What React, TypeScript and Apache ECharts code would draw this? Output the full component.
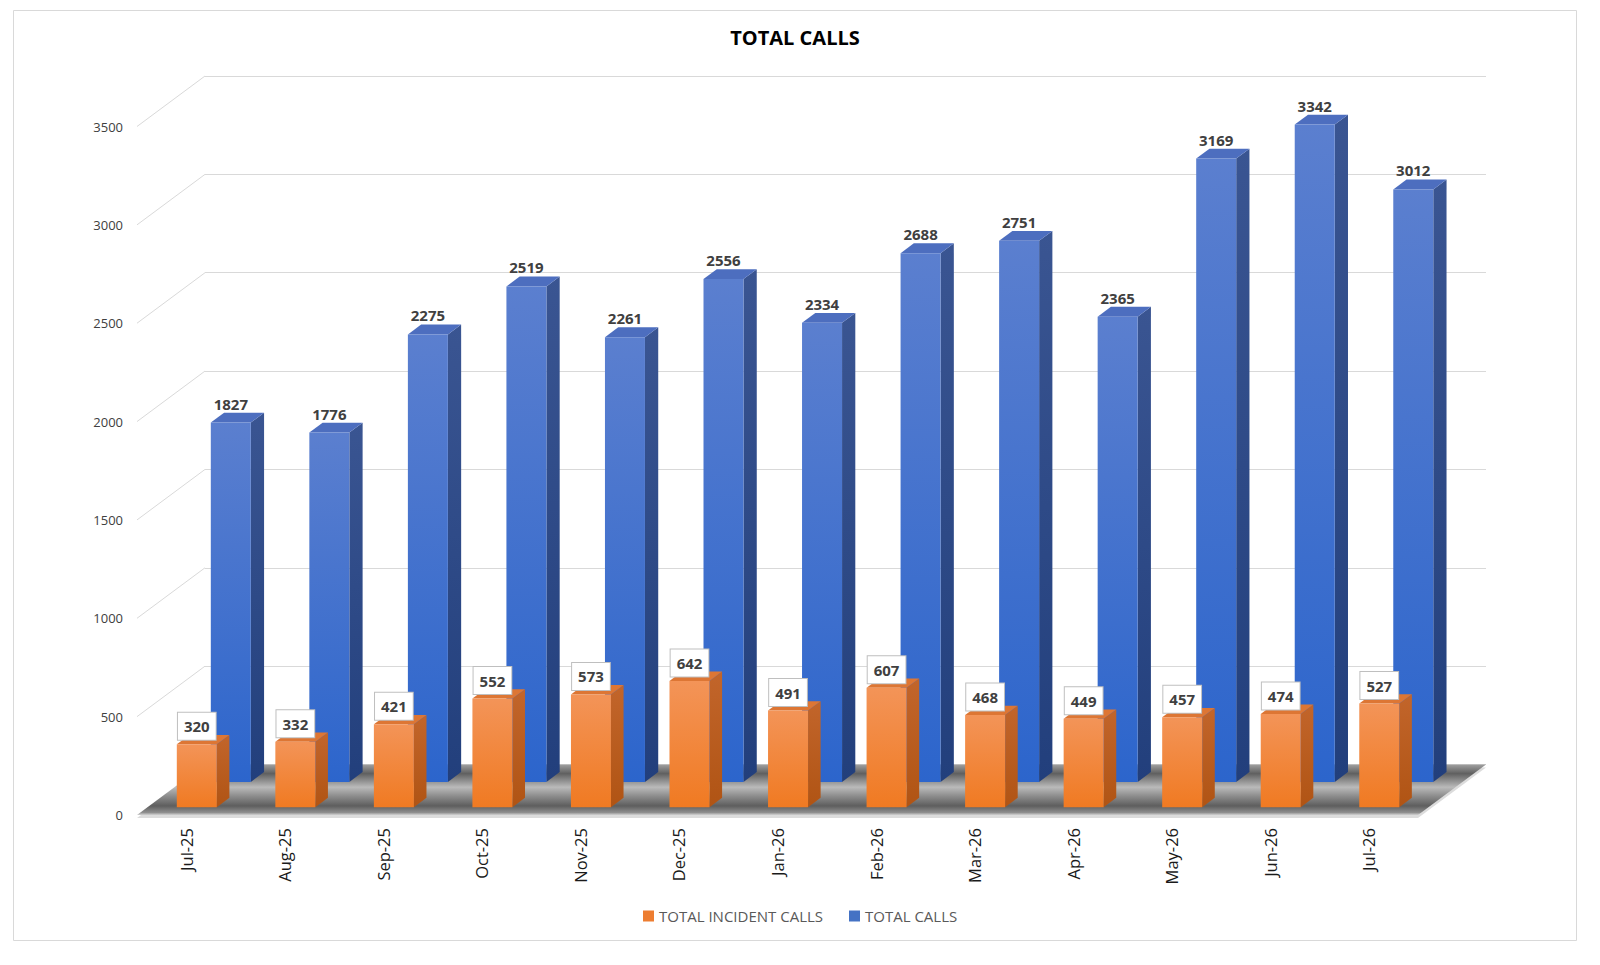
import React, { useEffect, useRef } from "react";
import * as echarts from "echarts";

const categories = ["Jul-25", "Aug-25", "Sep-25", "Oct-25", "Nov-25", "Dec-25", "Jan-26", "Feb-26", "Mar-26", "Apr-26", "May-26", "Jun-26", "Jul-26"];
const incidentCalls = [320, 332, 421, 552, 573, 642, 491, 607, 468, 449, 457, 474, 527];
const totalCalls = [1827, 1776, 2275, 2519, 2261, 2556, 2334, 2688, 2751, 2365, 3169, 3342, 3012];
const yTicks = [500, 1000, 1500, 2000, 2500, 3000, 3500];

const FONT = "'Open Sans', 'Noto Sans', sans-serif";
const DX = 68;
const DY = -50.5;
const BAR_FRAC = 0.406;

function barRenderer(dFront: number, dBack: number, c: any, boxed: boolean) {
  return (params: any, api: any) => {
    const idx = api.value(0);
    const val = api.value(1);
    const top = api.coord([idx, val]);
    const base = api.coord([idx, 0]);
    const cw = api.size([1, 0])[0];
    const w = cw * BAR_FRAC;
    const fx = base[0] - w / 2 + DX * dFront;
    const fyB = base[1] + DY * dFront;
    const fyT = top[1] + DY * dFront;
    const sx = DX * (dBack - dFront);
    const sy = DY * (dBack - dFront);
    const children: any[] = [
      {
        type: "polygon",
        shape: { points: [[fx + w, fyT], [fx + w + sx, fyT + sy], [fx + w + sx, fyB + sy], [fx + w, fyB]] },
        style: { fill: new echarts.graphic.LinearGradient(0, 0, 0, 1, [{ offset: 0, color: c.side[0] }, { offset: 1, color: c.side[1] }]) },
      },
      {
        type: "polygon",
        shape: { points: [[fx, fyT], [fx + w, fyT], [fx + w + sx, fyT + sy], [fx + sx, fyT + sy]] },
        style: { fill: c.top },
      },
      {
        type: "rect",
        shape: { x: fx, y: fyT, width: w, height: fyB - fyT },
        style: { fill: new echarts.graphic.LinearGradient(0, 0, 0, 1, [{ offset: 0, color: c.front[0] }, { offset: 1, color: c.front[1] }]) },
      },
    ];
    const labelStyle: any = {
      text: String(val),
      fill: "#404040",
      font: `bold 15px ${FONT}`,
      align: "center",
      verticalAlign: "middle",
    };
    if (boxed) {
      labelStyle.backgroundColor = "#ffffff";
      labelStyle.borderColor = "#bfbfbf";
      labelStyle.borderWidth = 1;
      labelStyle.padding = [5, 6, 5, 6];
      labelStyle.lineHeight = 17;
    }
    children.push({
      type: "text",
      x: fx + w / 2,
      y: fyT - (boxed ? 18 : 19),
      style: labelStyle,
    });
    return { type: "group", children };
  };
}

export default function App() {
  const ref = useRef<HTMLDivElement>(null);
  useEffect(() => {
    document.body.style.margin = "0";
    const chart = echarts.init(ref.current!, null, { renderer: "svg" });
    const option: any = {
      animation: false,
      backgroundColor: "#ffffff",
      grid: [
        { left: 137, right: 182, top: 126.5, bottom: 150 },
        { left: 137 + DX, right: 182 - DX, top: 126.5 + DY, bottom: 150 - DY },
      ],
      xAxis: [
        {
          type: "category",
          gridIndex: 0,
          data: categories,
          axisLine: { show: false },
          axisTick: { show: false },
          axisLabel: { rotate: 90, margin: 13, fontSize: 16.5, color: "#1a1a1a", fontFamily: FONT },
        },
        { type: "category", gridIndex: 1, data: categories, show: false },
      ],
      yAxis: [
        {
          type: "value",
          gridIndex: 0,
          min: 0,
          max: 3500,
          interval: 500,
          axisLine: { show: false },
          axisTick: { show: false },
          splitLine: { show: false },
          axisLabel: { margin: 14, fontSize: 13, color: "#404040", fontFamily: FONT, formatter: (v: number) => String(v) },
        },
        {
          type: "value",
          gridIndex: 1,
          min: 0,
          max: 3500,
          interval: 500,
          axisLine: { show: false },
          axisTick: { show: false },
          axisLabel: { show: false },
          splitLine: { show: true, lineStyle: { color: "#d9d9d9", width: 1 } },
        },
      ],
      legend: {
        data: ["TOTAL INCIDENT CALLS", "TOTAL CALLS"],
        left: 643,
        top: 906,
        padding: 0,
        icon: "rect",
        itemWidth: 11,
        itemHeight: 11,
        itemGap: 26,
        textStyle: { fontSize: 15, color: "#595959", fontFamily: FONT, lineHeight: 20 },
      },
      graphic: [
        {
          type: "rect",
          shape: { x: 13.5, y: 10.5, width: 1563, height: 930 },
          style: { fill: "none", stroke: "#d9d9d9", lineWidth: 1 },
          silent: true,
          z: -1,
        },
        {
          type: "text",
          x: 795,
          y: 37,
          style: { text: "TOTAL CALLS", font: `bold 20px ${FONT}`, fill: "#000000", align: "center", verticalAlign: "middle" },
        },
      ],
      series: [
        {
          type: "custom",
          name: "sidewall",
          xAxisIndex: 0,
          yAxisIndex: 0,
          clip: false,
          silent: true,
          data: yTicks.map((v) => [0, v]),
          encode: { x: 0, y: 1 },
          renderItem: (params: any, api: any) => {
            const p = api.coord([0, api.value(1)]);
            const cw = api.size([1, 0])[0];
            const x0 = p[0] - cw / 2;
            return {
              type: "line",
              shape: { x1: x0, y1: p[1], x2: x0 + DX, y2: p[1] + DY },
              style: { stroke: "#d9d9d9", lineWidth: 1 },
            };
          },
        },
        {
          type: "custom",
          name: "floor",
          xAxisIndex: 0,
          yAxisIndex: 0,
          clip: false,
          silent: true,
          data: [[0, 0, categories.length - 1]],
          encode: { x: 0, y: 1 },
          renderItem: (params: any, api: any) => {
            const a = api.coord([0, 0]);
            const b = api.coord([api.value(2), 0]);
            const cw = api.size([1, 0])[0];
            const xl = a[0] - cw / 2;
            const xr = b[0] + cw / 2;
            const y = a[1];
            return {
              type: "group",
              children: [
                {
                  type: "polygon",
                  shape: { points: [[xl, y + 3], [xr, y + 3], [xr + DX, y + DY + 3], [xl + DX, y + DY + 3]] },
                  style: { fill: "#dcdcdc" },
                },
                {
                  type: "polygon",
                  shape: { points: [[xl, y], [xr, y], [xr + DX, y + DY], [xl + DX, y + DY]] },
                  style: {
                    fill: new echarts.graphic.LinearGradient(0, 0, 0, 1, [
                      { offset: 0, color: "#a0a0a0" },
                      { offset: 0.18, color: "#606060" },
                      { offset: 0.45, color: "#bababa" },
                      { offset: 0.62, color: "#8e8e8e" },
                      { offset: 0.82, color: "#5e5e5e" },
                      { offset: 0.95, color: "#8e8e8e" },
                      { offset: 1, color: "#d2d2d2" },
                    ]),
                  },
                },
              ],
            };
          },
        },
        {
          type: "custom",
          name: "TOTAL CALLS",
          xAxisIndex: 0,
          yAxisIndex: 0,
          clip: false,
          itemStyle: { color: "#4472C4" },
          data: totalCalls.map((v, i) => [i, v]),
          encode: { x: 0, y: 1 },
          renderItem: barRenderer(0.655, 0.85, { front: ["#5b7fcf", "#2c65cc"], side: ["#3a5592", "#223f7c"], top: "#4d6ebf" }, false),
        },
        {
          type: "custom",
          name: "TOTAL INCIDENT CALLS",
          xAxisIndex: 0,
          yAxisIndex: 0,
          clip: false,
          itemStyle: { color: "#ED7D31" },
          data: incidentCalls.map((v, i) => [i, v]),
          encode: { x: 0, y: 1 },
          renderItem: barRenderer(0.155, 0.34, { front: ["#f39458", "#f07a22"], side: ["#c2652b", "#b05414"], top: "#dd7634" }, true),
        },
      ],
    };
    chart.setOption(option);
    return () => chart.dispose();
  }, []);
  return <div ref={ref} style={{ width: 1600, height: 965 }} />;
}
